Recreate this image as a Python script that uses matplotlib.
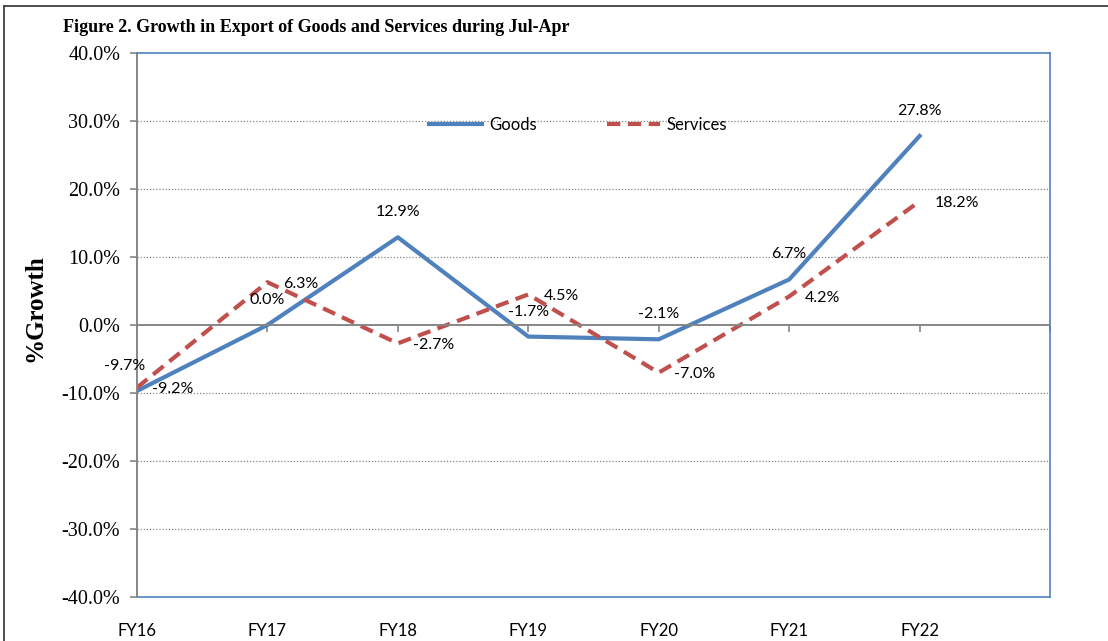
import matplotlib
matplotlib.use("Agg")
import matplotlib.pyplot as plt
from matplotlib.lines import Line2D

years = ["FY16", "FY17", "FY18", "FY19", "FY20", "FY21", "FY22"]
goods = [-9.7, 0.0, 12.9, -1.7, -2.1, 6.7, 27.8]
services = [-9.2, 6.3, -2.7, 4.5, -7.0, 4.2, 18.2]
yticks = [-40, -30, -20, -10, 0, 10, 20, 30, 40]

blue = "#4F81BD"
red = "#C0504D"
grey = "#868686"
label_font = "Lato"
serif = "Liberation Serif"

fig = plt.figure(figsize=(11.08, 6.41), dpi=100)
ax = fig.add_axes([0.1236, 0.0686, 0.8241, 0.8487])

x = list(range(len(years)))
ax.plot(x, goods, color=blue, lw=3.0, label="Goods")
ax.plot(x, services, color=red, lw=3.0, ls=(0, (3.2, 1.8)), label="Services")

ax.set_xlim(0, 7)
ax.set_ylim(-40, 40)

# gridlines (dotted), skip the zero line and the borders
for v in yticks[1:-1]:
    if v != 0:
        ax.axhline(v, color=grey, lw=0.9, ls=(0, (1, 1.5)), zorder=0)
ax.axhline(-40, color=blue, lw=1.2, clip_on=False, zorder=1)

# spines
ax.spines["top"].set_color(blue)
ax.spines["right"].set_color(blue)
ax.spines["top"].set_linewidth(1.2)
ax.spines["right"].set_linewidth(1.2)
ax.spines["left"].set_color(grey)
ax.spines["left"].set_linewidth(1.4)
ax.spines["bottom"].set_position(("data", 0))
ax.spines["bottom"].set_color(grey)
ax.spines["bottom"].set_linewidth(1.4)

ax.set_yticks(yticks)
ax.set_yticklabels(["%.1f%%" % v for v in yticks], fontfamily=serif, fontsize=14.5)
ax.tick_params(axis="y", direction="out", length=5, color=grey, width=1.2, pad=7)
ax.set_xticks(range(8))
ax.tick_params(axis="x", direction="out", length=5, color=grey, width=1.2, labelbottom=False)

# category labels under the plot
sec = ax.secondary_xaxis(0.0)
sec.set_xticks(x)
sec.set_xticklabels(years, fontfamily=label_font, fontsize=12)
sec.tick_params(length=0, pad=19)
sec.spines["bottom"].set_visible(False)

ax.set_ylabel("%Growth", fontfamily=serif, fontweight="bold", fontsize=18)
ax.yaxis.set_label_coords(-0.099, 0.531)

# data labels
for i, v in enumerate(goods):
    dx = -9 if i == 0 else 0
    ax.annotate("%.1f%%" % v, (i, v), xytext=(dx, 18), textcoords="offset points",
                ha="center", va="center", fontfamily=label_font, fontsize=11.5)
for i, v in enumerate(services):
    ax.annotate("%.1f%%" % v, (i, v), xytext=(11, -1), textcoords="offset points",
                ha="left", va="center", fontfamily=label_font, fontsize=11.5)

leg = ax.legend(loc="center", bbox_to_anchor=(0.483, 0.868), ncol=2, frameon=False,
                prop={"family": label_font, "size": 12}, handlelength=3.2,
                columnspacing=4.2, handletextpad=0.4)

fig.text(0.057, 0.957, "Figure 2. Growth in Export of Goods and Services during Jul-Apr",
         fontfamily=serif, fontweight="bold", fontsize=13, ha="left", va="center")

# outer frame (top and left edges)
fig.add_artist(Line2D([0.004, 0.004], [0.0, 0.991], color="#404040", lw=1.3, transform=fig.transFigure))
fig.add_artist(Line2D([0.004, 1.0], [0.991, 0.991], color="#404040", lw=1.3, transform=fig.transFigure))

fig.savefig("out.png", dpi=100)
